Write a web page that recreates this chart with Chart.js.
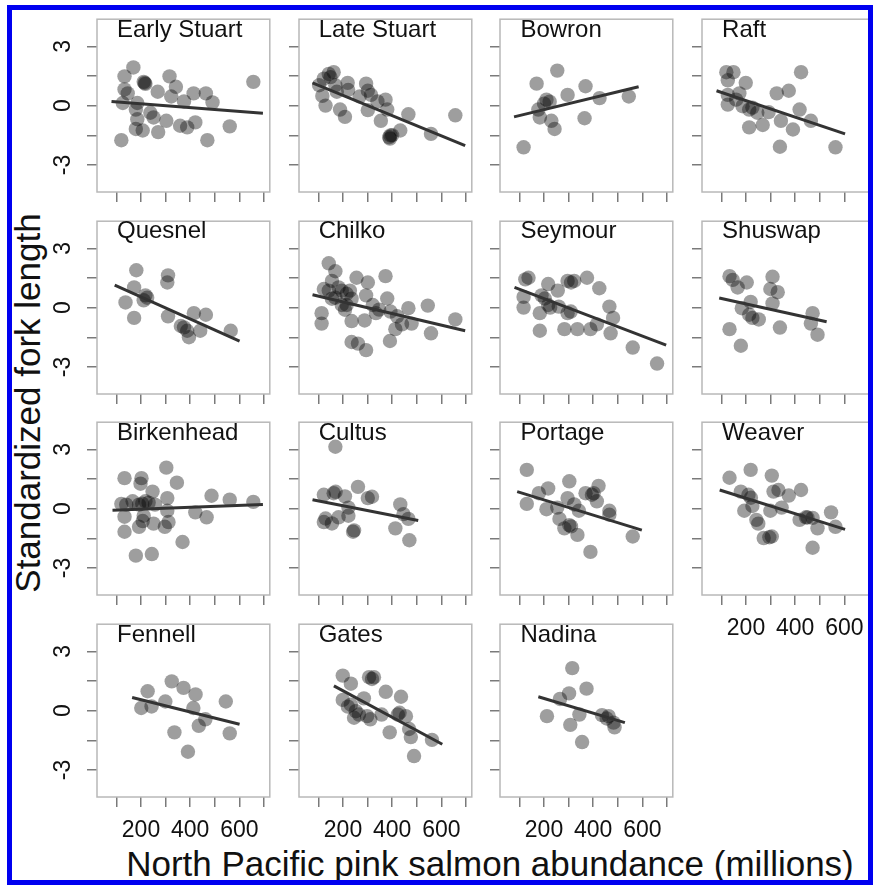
<!DOCTYPE html>
<html>
<head>
<meta charset="utf-8">
<script src="https://cdn.jsdelivr.net/npm/chart.js@4.4.1/dist/chart.umd.min.js"></script>
<style>
html, body { margin: 0; padding: 0; background: #fff; }
#page { position: relative; width: 873px; height: 885px; overflow: hidden; font-family: "Liberation Sans", Arial, sans-serif; color: #111; }
.panel { position: absolute; width: 230px; height: 230px; }
.ptitle { position: absolute; font-size: 24px; line-height: 24px; white-space: nowrap; }
#ytitle { position: absolute; left: -222px; top: 383px; width: 500px; height: 40px; line-height: 40px; font-size: 35px; text-align: center; transform: rotate(-90deg); white-space: nowrap; }
#xtitle { position: absolute; left: 90px; top: 846px; width: 800px; line-height: 35px; font-size: 35px; text-align: center; white-space: nowrap; }
#frame { position: absolute; left: 7px; top: 5px; width: 866px; height: 880px; box-sizing: border-box; border: 5px solid #0000f0; pointer-events: none; }
</style>
</head>
<body>
<div id="page">
  <div id="ytitle">Standardized fork length</div>
  <div id="xtitle">North Pacific pink salmon abundance (millions)</div>
  <div id="frame"></div>
</div>
<script>
// axes
const xTickValues = [100, 200, 300, 400, 500, 600, 700];
const xTickLabels = [200, 400, 600];
const yTickValues = [-3, -1.5, 0, 1.5, 3];
const yTickLabels = [-3, 0, 3];

const stocks = ['Early Stuart', 'Late Stuart', 'Bowron', 'Raft',
                'Quesnel', 'Chilko', 'Seymour', 'Shuswap',
                'Birkenhead', 'Cultus', 'Portage', 'Weaver',
                'Fennell', 'Gates', 'Nadina'];

// pink salmon abundance (x) and standardized fork length (y) per stock, plus fitted line ends
const earlyStuartX = [169, 133, 133, 146, 211, 218, 268, 316, 342, 323, 375, 414, 464, 491, 657, 126, 185, 179, 185, 179, 207, 238, 251, 270, 303, 359, 388, 421, 470, 561, 120, 215];
const earlyStuartY = [1.93, 1.48, 0.82, 0.62, 1.2, 1.1, 0.7, 1.48, 0.95, 0.46, 0.21, 0.62, 0.62, 0.16, 1.2, 0.13, 0.13, -0.2, -0.69, -1.18, -1.26, -0.36, -0.6, -1.34, -0.77, -1.02, -1.1, -0.85, -1.75, -1.05, -1.75, 1.15];
const earlyStuartFit = [[80, 0.21], [696, -0.39]];

const lateStuartX = [142, 162, 149, 122, 103, 169, 175, 219, 221, 294, 301, 314, 340, 373, 301, 354, 380, 466, 393, 391, 433, 400, 558, 657, 116, 129, 188, 208, 268, 388];
const lateStuartY = [1.6, 1.69, 1.44, 1.36, 1.03, 1.03, 0.7, 1.15, 0.79, 1.11, 0.75, 0.54, 0.21, 0.3, -0.23, -0.77, -0.2, -0.44, -1.51, -1.67, -1.26, -1.5, -1.43, -0.49, 0.49, 0, -0.2, -0.57, 0.46, -1.6];
const lateStuartFit = [[76, 1.15], [697, -2.03]];

const bowronX = [254, 170, 296, 369, 426, 545, 210, 223, 177, 183, 230, 243, 365, 117, 200];
const bowronY = [1.77, 1.11, 0.54, 0.98, 0.38, 0.46, 0.3, 0.2, -0.2, -0.6, -0.77, -1.18, -0.64, -2.11, 0.1];
const bowronFit = [[78, -0.57], [585, 0.95]];

const raftX = [120, 149, 126, 199, 424, 325, 374, 126, 173, 126, 186, 213, 226, 246, 292, 213, 268, 342, 418, 391, 464, 338, 564, 160];
const raftY = [1.69, 1.69, 1.28, 1.15, 1.69, 0.62, 0.75, 0.54, 0.62, 0.05, -0.03, -0.2, -0.1, -0.36, -0.33, -1.1, -0.98, -0.77, -0.2, -1.21, -0.77, -2.08, -2.11, 0.3];
const raftFit = [[80, 0.75], [603, -1.43]];

const quesnelX = [181, 172, 137, 172, 310, 307, 218, 211, 225, 310, 362, 388, 395, 415, 464, 441, 565, 375];
const quesnelY = [1.89, 1.02, 0.26, -0.52, 1.63, 1.27, 0.62, 0.37, 0.5, -0.44, -0.93, -1.17, -1.5, -0.28, -0.36, -1.17, -1.17, -1.0];
const quesnelFit = [[93, 1.14], [601, -1.69]];

const chilkoX = [142, 169, 155, 122, 142, 182, 195, 215, 228, 255, 301, 294, 373, 113, 113, 195, 208, 215, 235, 288, 321, 334, 380, 393, 466, 545, 235, 261, 294, 391, 413, 440, 479, 558, 657, 420, 169, 235, 155, 347];
const chilkoY = [2.24, 1.84, 1.35, 0.94, 0.86, 1.02, 0.86, 0.7, 0.86, 1.51, 1.27, 0.62, 1.59, -0.28, -0.81, 0.13, -0.11, 0.13, -0.68, -0.65, 0.13, -0.28, 0.46, -0.2, -0.03, 0.1, -1.74, -1.82, -2.15, -1.69, -1.09, -0.85, -0.81, -1.3, -0.6, -0.44, 0.5, 0.45, 0.45, -0.1];
const chilkoFit = [[76, 0.65], [697, -1.17]];

const seymourX = [137, 124, 217, 117, 117, 190, 203, 217, 183, 183, 256, 296, 323, 375, 425, 296, 309, 283, 336, 389, 415, 466, 481, 471, 561, 660, 260, 310, 225];
const seymourY = [1.51, 1.43, 1.19, 0.54, 0, 0.62, 0.46, 0.13, -0.28, -1.17, 0.86, 1.35, 1.35, 1.51, 0.98, -0.28, -0.2, -1.09, -1.09, -1.09, -0.85, 0.05, -0.52, -1.3, -2.02, -2.83, 0.05, 1.27, 0];
const seymourFit = [[80, 1.02], [697, -1.9]];

const shuswapX = [133, 146, 203, 166, 308, 299, 329, 308, 219, 213, 226, 252, 183, 133, 179, 338, 471, 464, 491];
const shuswapY = [1.59, 1.4, 1.27, 1.02, 1.56, 0.94, 0.78, 0.21, 0.29, -0.36, -0.52, -0.6, -0.03, -1.09, -1.93, -1.01, -0.28, -0.81, -1.37];
const shuswapFit = [[91, 0.49], [528, -0.72]];

const birkenheadX = [133, 202, 198, 303, 346, 247, 307, 487, 561, 657, 120, 140, 166, 192, 218, 231, 257, 133, 211, 207, 307, 421, 467, 133, 192, 251, 297, 312, 369, 179, 244, 205];
const birkenheadY = [1.54, 1.54, 1.26, 2.07, 1.31, 0.86, 0.53, 0.65, 0.45, 0.34, 0.24, 0.2, 0.37, 0.2, 0.37, 0.3, 0.2, -0.41, -0.36, -0.63, -0.11, -0.19, -0.44, -1.17, -0.92, -0.76, -0.92, -0.68, -1.69, -2.38, -2.3, 0.25];
const birkenheadFit = [[84, -0.08], [696, 0.21]];

const cultusX = [169, 122, 162, 208, 261, 301, 318, 222, 222, 182, 122, 129, 241, 433, 446, 466, 413, 470, 155, 170, 245];
const cultusY = [3.13, 0.7, 0.78, 0.62, 1.1, 0.53, 0.6, 0.05, -0.36, -0.44, -0.68, -0.5, -1.17, 0.21, -0.28, -0.52, -1.0, -1.6, -0.75, 0.85, -1.1];
const cultusFit = [[76, 0.45], [506, -0.6]];

const portageX = [130, 130, 179, 217, 210, 254, 303, 296, 323, 342, 263, 283, 303, 336, 369, 402, 422, 415, 466, 466, 389, 561, 310, 395];
const portageY = [1.96, 0.24, 0.78, 1.02, -0.03, 0.05, 1.38, 0.53, 0.21, -0.11, -0.52, -1.0, -0.84, -1.33, 0.78, 0.78, 1.15, 0.37, -0.11, -0.31, -2.19, -1.41, -0.9, 0.7];
const portageFit = [[91, 0.86], [598, -1.09]];

const weaverX = [133, 219, 305, 179, 210, 193, 226, 242, 250, 272, 305, 299, 312, 332, 345, 374, 424, 418, 444, 471, 491, 546, 564, 471, 220, 295, 450];
const weaverY = [1.56, 1.96, 1.67, 0.86, 0.7, -0.11, 0.13, -0.57, -0.76, -1.49, -1.41, -0.11, 0.86, 0.94, 0.05, 0.66, 0.94, -0.57, -0.44, -0.47, -1.0, -0.19, -0.92, -1.98, 0.55, -1.45, -0.45];
const weaverFit = [[93, 0.94], [603, -1.05]];

const fennellX = [325, 373, 422, 227, 299, 201, 243, 413, 545, 435, 462, 336, 391, 561];
const fennellY = [1.48, 1.15, 0.82, 0.98, 0.46, 0.13, 0.21, 0.13, 0.46, -0.77, -0.44, -1.1, -2.08, -1.15];
const fennellFit = [[164, 0.66], [601, -0.69]];

const gatesX = [199, 232, 306, 326, 318, 374, 436, 199, 232, 285, 252, 265, 298, 311, 357, 245, 430, 423, 456, 390, 469, 476, 562, 489, 220];
const gatesY = [1.77, 1.36, 1.69, 1.69, 1.6, 0.95, 0.7, 0.54, 0.3, 0.62, -0.03, -0.2, -0.28, -0.44, -0.2, -0.36, -0.11, -0.2, -0.28, -1.1, -0.93, -1.34, -1.48, -2.3, 0.2];
const gatesFit = [[163, 1.25], [604, -1.7]];

const nadinaX = [315, 373, 302, 265, 212, 344, 307, 355, 436, 463, 483, 487, 455];
const nadinaY = [2.15, 1.11, 0.87, 0.59, -0.28, -0.2, -0.72, -1.59, -0.23, -0.28, -0.61, -0.85, -0.4];
const nadinaFit = [[177, 0.7], [529, -0.61]];

const panelData = [
    [earlyStuartX, earlyStuartY, earlyStuartFit], [lateStuartX, lateStuartY, lateStuartFit],
    [bowronX, bowronY, bowronFit], [raftX, raftY, raftFit],
    [quesnelX, quesnelY, quesnelFit], [chilkoX, chilkoY, chilkoFit],
    [seymourX, seymourY, seymourFit], [shuswapX, shuswapY, shuswapFit],
    [birkenheadX, birkenheadY, birkenheadFit], [cultusX, cultusY, cultusFit],
    [portageX, portageY, portageFit], [weaverX, weaverY, weaverFit],
    [fennellX, fennellY, fennellFit], [gatesX, gatesY, gatesFit],
    [nadinaX, nadinaY, nadinaFit]
];

Chart.defaults.font.family = '"Liberation Sans", Arial, sans-serif';
Chart.defaults.color = '#111';

// grey frame round each panel
const boxPlugin = {
    id: 'panelBox',
    beforeDatasetsDraw: function(chart) {
        const a = chart.chartArea;
        const ctx = chart.ctx;
        ctx.save();
        ctx.strokeStyle = '#b8b8b8';
        ctx.lineWidth = 1.5;
        ctx.strokeRect(a.left, a.top, a.right - a.left, a.bottom - a.top);
        ctx.restore();
    }
};

const page = document.getElementById('page');
const frame = document.getElementById('frame');
const pitch = 201.7;

stocks.forEach(function(name, i) {
    const row = Math.floor(i / 4);
    const col = i % 4;
    const boxLeft = 97 + col * pitch;
    const boxTop = 14 + row * pitch;
    const showX = row === 3 || i === 11;
    const showY = col === 0;

    const wrap = document.createElement('div');
    wrap.className = 'panel';
    wrap.style.left = (boxLeft - 50) + 'px';
    wrap.style.top = (boxTop - 2) + 'px';
    const canvas = document.createElement('canvas');
    canvas.width = 230;
    canvas.height = 230;
    wrap.appendChild(canvas);
    page.insertBefore(wrap, frame);

    const title = document.createElement('div');
    title.className = 'ptitle';
    title.textContent = name;
    title.style.left = (boxLeft + 20) + 'px';
    title.style.top = (boxTop + 2.7) + 'px';
    page.insertBefore(title, frame);

    const xs = panelData[i][0];
    const ys = panelData[i][1];
    const fit = panelData[i][2];

    new Chart(canvas.getContext('2d'), {
        type: 'scatter',
        data: {
            datasets: [
                {
                    data: fit.map(function(p) { return {x: p[0], y: p[1]}; }),
                    showLine: true,
                    borderColor: '#333',
                    borderWidth: 3,
                    pointRadius: 0,
                    order: 0
                },
                {
                    data: xs.map(function(v, k) { return {x: v, y: ys[k]}; }),
                    backgroundColor: 'rgba(0, 0, 0, 0.38)',
                    borderWidth: 0,
                    pointRadius: 7.2,
                    order: 1
                }
            ]
        },
        options: {
            responsive: false,
            animation: false,
            events: [],
            layout: { padding: { top: 2, right: 2, left: 0, bottom: 0 } },
            plugins: { legend: { display: false }, tooltip: { enabled: false } },
            scales: {
                x: {
                    type: 'linear',
                    min: 21,
                    max: 724,
                    afterBuildTicks: function(s) { s.ticks = xTickValues.map(function(v) { return {value: v}; }); },
                    afterFit: function(s) { s.height = 50; s.paddingLeft = 0; s.paddingRight = 0; },
                    grid: { drawOnChartArea: false, drawTicks: true, tickLength: 10, color: '#7a7a7a', lineWidth: 1.5 },
                    border: { display: false },
                    ticks: {
                        autoSkip: false,
                        maxRotation: 0,
                        padding: 10,
                        color: '#111',
                        font: { size: 23 },
                        callback: function(v) { return (showX && xTickLabels.indexOf(v) >= 0) ? String(v) : ''; }
                    }
                },
                y: {
                    min: -4.37,
                    max: 4.37,
                    afterBuildTicks: function(s) { s.ticks = yTickValues.map(function(v) { return {value: v}; }); },
                    afterFit: function(s) { s.width = 50; s.paddingTop = 0; s.paddingBottom = 0; },
                    grid: { drawOnChartArea: false, drawTicks: true, tickLength: 10, color: '#7a7a7a', lineWidth: 1.5 },
                    border: { display: false },
                    ticks: {
                        autoSkip: false,
                        minRotation: 90,
                        maxRotation: 90,
                        crossAlign: 'center',
                        padding: 13,
                        color: '#111',
                        font: { size: 23 },
                        callback: function(v) { return (showY && yTickLabels.indexOf(v) >= 0) ? String(v) : ''; }
                    }
                }
            }
        },
        plugins: [boxPlugin]
    });
});
</script>
</body>
</html>
